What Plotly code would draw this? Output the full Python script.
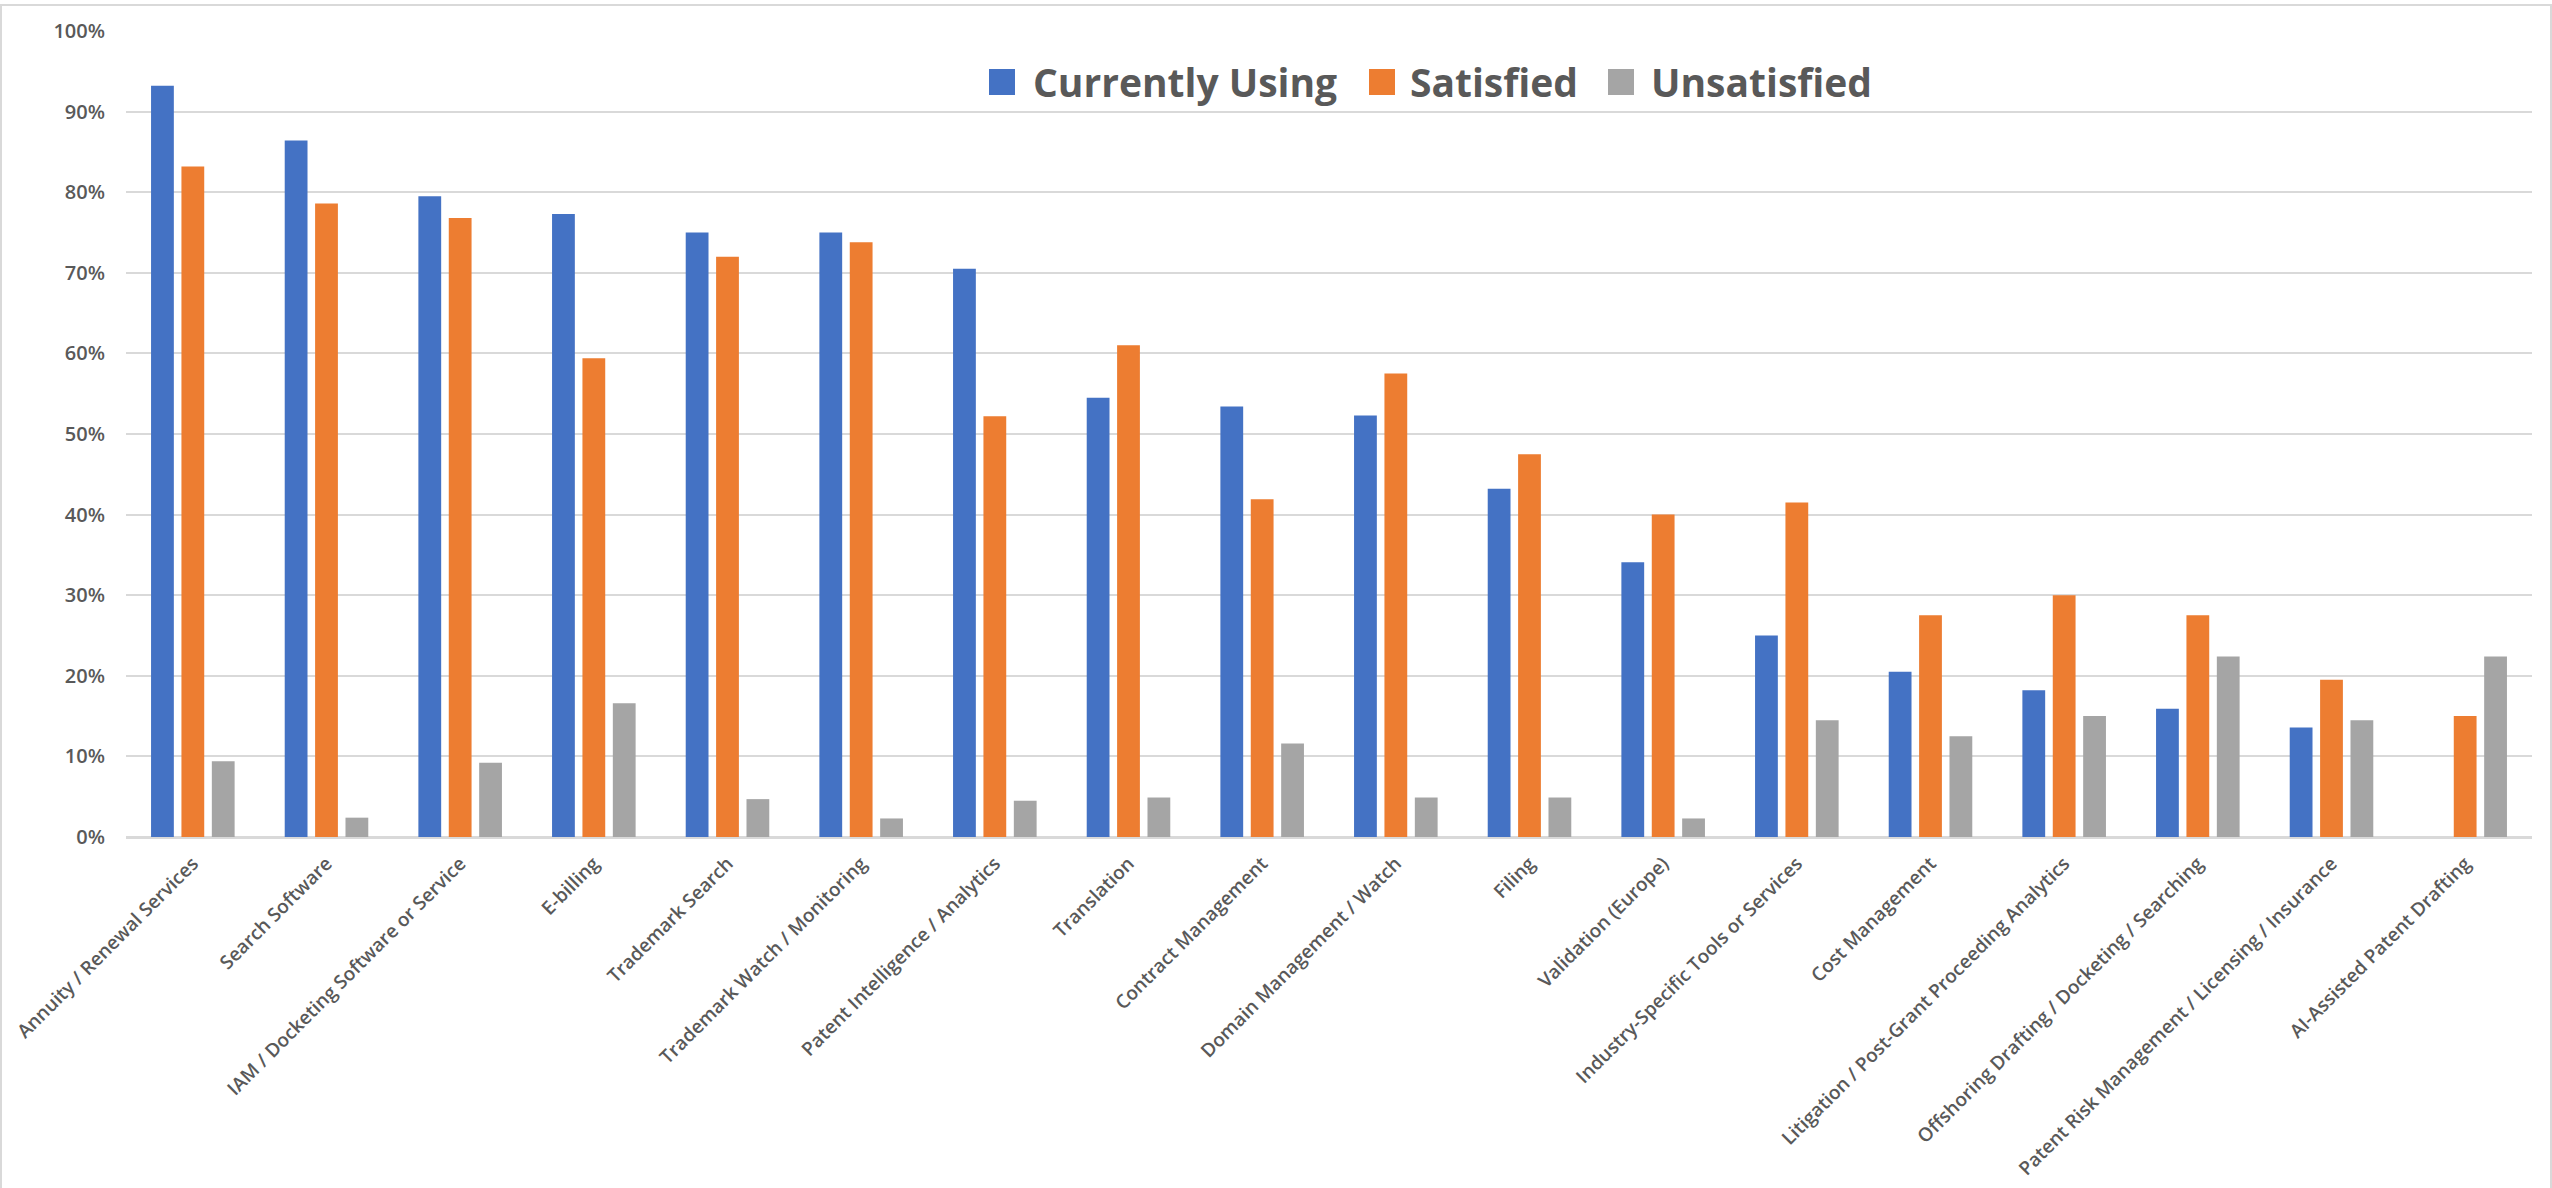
import plotly.graph_objects as go

# Tool / service categories (x axis)
categories = [
    "Annuity / Renewal Services",
    "Search Software",
    "IAM / Docketing Software or Service",
    "E-billing",
    "Trademark Search",
    "Trademark Watch / Monitoring",
    "Patent Intelligence / Analytics",
    "Translation",
    "Contract Management",
    "Domain Management / Watch",
    "Filing",
    "Validation (Europe)",
    "Industry-Specific Tools or Services",
    "Cost Management",
    "Litigation / Post-Grant Proceeding Analytics",
    "Offshoring Drafting / Docketing / Searching",
    "Patent Risk Management / Licensing / Insurance",
    "AI-Assisted Patent Drafting",
]

# Share of respondents (fractions of 1)
currently_using = [0.932, 0.864, 0.795, 0.773, 0.750, 0.750, 0.705, 0.545, 0.534,
                   0.523, 0.432, 0.341, 0.250, 0.205, 0.182, 0.159, 0.136, 0.0]
satisfied = [0.832, 0.786, 0.768, 0.594, 0.720, 0.738, 0.522, 0.610, 0.419,
             0.575, 0.475, 0.400, 0.415, 0.275, 0.300, 0.275, 0.195, 0.150]
unsatisfied = [0.094, 0.024, 0.092, 0.166, 0.047, 0.023, 0.045, 0.049, 0.116,
               0.049, 0.049, 0.023, 0.145, 0.125, 0.150, 0.224, 0.145, 0.224]

series_names = ["Currently Using", "Satisfied", "Unsatisfied"]
colors = ["#4472C4", "#ED7D31", "#A5A5A5"]

W, H = 2552, 1188
ML, MR, MT, MB = 126, 20, 31, 351
PW, PH = W - ML - MR, H - MT - MB


def px_x(px):
    """Page pixel column -> paper x."""
    return (px - ML) / PW


def px_y(py):
    """Page pixel row -> paper y."""
    return (MT + PH - py) / PH


text_col = "#595959"
grid_col = "#D9D9D9"

fig = go.Figure()
for name, vals, col in zip(series_names, [currently_using, satisfied, unsatisfied], colors):
    fig.add_trace(go.Bar(name=name, x=categories, y=vals, marker_color=col,
                         marker_line_width=0))

# Legend drawn as swatches + labels across the top of the plot
swatch_left = [989, 1369, 1608]
label_left = [1031, 1408, 1649]
swatch_size = 26
legend_mid = 82

shapes = [dict(
    type="rect", xref="paper", yref="paper",
    x0=px_x(1), x1=px_x(W - 1), y0=px_y(H + 2), y1=px_y(5),
    line=dict(color="#D9D9D9", width=2), layer="below",
)]
annotations = []
for name, col, sx, tx in zip(series_names, colors, swatch_left, label_left):
    shapes.append(dict(
        type="rect", xref="paper", yref="paper",
        x0=px_x(sx), x1=px_x(sx + swatch_size),
        y0=px_y(legend_mid + swatch_size / 2), y1=px_y(legend_mid - swatch_size / 2),
        fillcolor=col, line_width=0,
    ))
    annotations.append(dict(
        text=name, xref="paper", yref="paper", x=px_x(tx), y=px_y(legend_mid),
        xanchor="left", yanchor="middle", showarrow=False,
        font=dict(family="Open Sans", size=39, color=text_col, weight="bold"),
    ))

fig.update_layout(
    width=W, height=H,
    margin=dict(l=ML, r=MR, t=MT, b=MB, autoexpand=False),
    paper_bgcolor="white", plot_bgcolor="white",
    barmode="group", bargap=0.318, bargroupgap=0.25,
    font=dict(family="Open Sans", color=text_col),
    showlegend=False,
    xaxis=dict(
        tickangle=-45, automargin=False, showgrid=False,
        tickfont=dict(family="Open Sans", size=19, color=text_col, weight=600),
        showline=True, linecolor=grid_col, linewidth=2, ticks="",
        ticklabelstandoff=6,
    ),
    yaxis=dict(
        range=[0, 1.0], dtick=0.1, tickformat=".0%", automargin=False,
        showgrid=True, gridcolor=grid_col, gridwidth=2,
        zeroline=True, zerolinecolor=grid_col, zerolinewidth=2,
        tickfont=dict(family="Open Sans", size=20, color=text_col, weight=600),
        ticklabelstandoff=20,
    ),
    shapes=shapes,
    annotations=annotations,
)

fig.write_html("out.html")
